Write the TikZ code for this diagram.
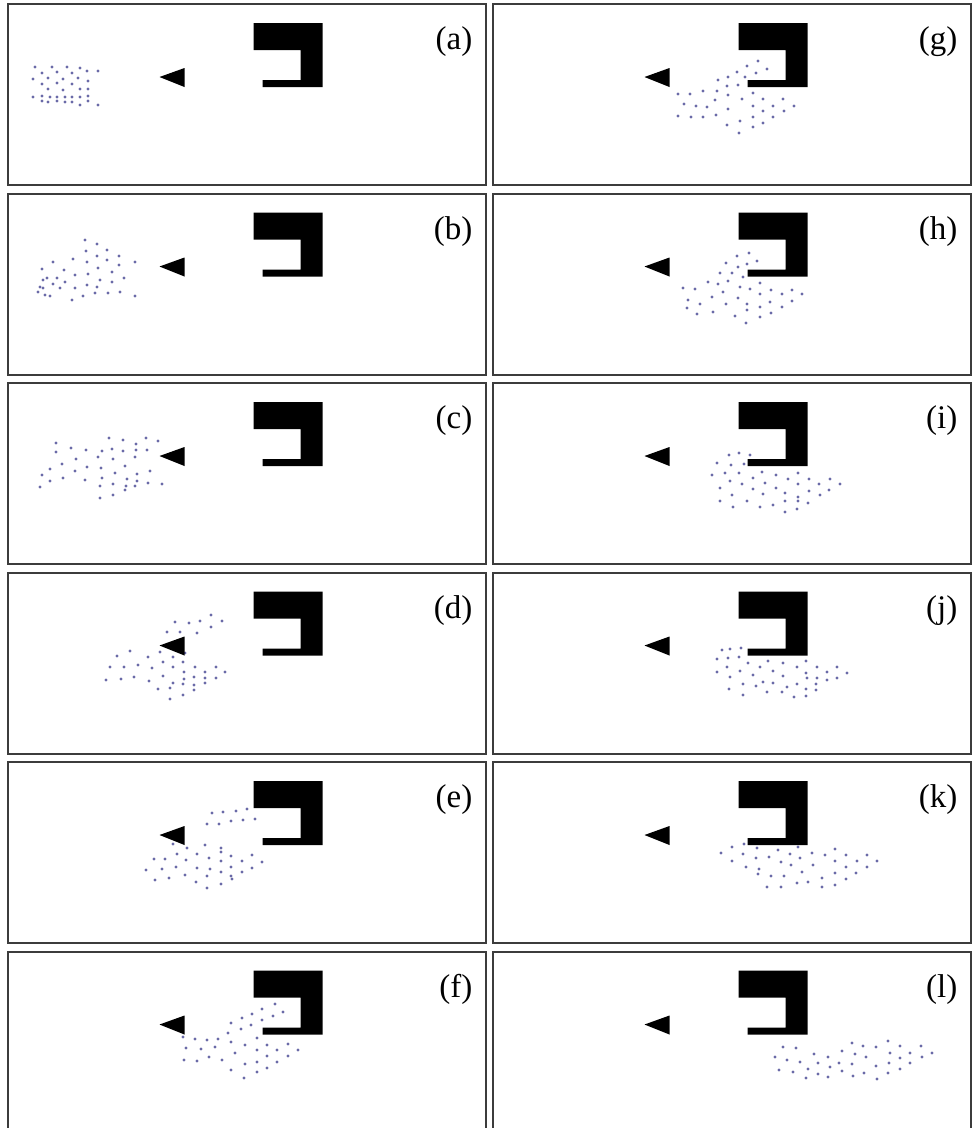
\documentclass[tikz,border=0pt]{standalone}
\usepackage{fontspec}
\setmainfont{Liberation Serif}
\usepackage{tikz}
\definecolor{frame}{HTML}{3C3C3C}
\definecolor{agent}{HTML}{6A6AA8}
\tikzset{
  panel/.style={draw=frame, line width=2pt, fill=white},
  wall/.style={fill=black},
  robot/.style={fill=black},
  agentdot/.style={fill=agent, draw=none},
  tag/.style={anchor=east, inner sep=0pt, font=\fontsize{33}{35}\selectfont},
}

\begin{document}
\begin{tikzpicture}[x=1pt, y=-1pt]
  \useasboundingbox (0,0) rectangle (972,1128);
  \clip (0,0) rectangle (972,1128);
  % frames, obstacle and robot of every snapshot
  \foreach \px/\py/\lab in {7.5/4/a, 7.5/193.5/b, 7.5/383/c, 7.5/572.5/d, 7.5/762/e, 7.5/951.5/f,
                            492.5/4/g, 492.5/193.5/h, 492.5/383/i, 492.5/572.5/j, 492.5/762/k, 492.5/951.5/l}{
    \begin{scope}[shift={(\px,\py)}]
      \draw[panel] (0,0) rectangle (478,181);
      \node[tag] (tag-\lab) at (465,38) {(\lab)};
    \end{scope}
  }
  % agents
  \foreach \x/\y in {35/67,52/67,67/67,80/68,42/73,57/72,72/73,87/71,98/71,33/79,48/78,63/79,78/78,88/81,42/84,57/83,72/84,48/89,63/90,80/89,88/89,33/97,42/96,50/97,57/97,65/97,72/97,80/97,88/96,42/101,48/102,57/101,65/102,72/102,88/101,80/105,98/105}
    \fill[agentdot] (\x,\y) circle (1.6pt);
  \foreach \x/\y in {85/240,97/244,107/250,86/251,97/256,119/256,53/262,73/259,87/262,107/260,119/265,135/262,42/269,64/270,98/268,112/272,75/275,88/274,47/278,57/278,43/280,53/284,65/282,100/280,112/282,124/278,40/287,43/288,60/288,75/288,87/285,97/287,38/292,45/295,50/296,83/296,95/293,108/293,120/292,135/296,72/300}
    \fill[agentdot] (\x,\y) circle (1.6pt);
  \foreach \x/\y in {109/438,123/440,136/444,146/438,158/441,56/443,71/448,86/450,102/451,112/449,123/451,136/450,147/450,56/452,76/459,98/457,113/459,135/457,62/464,87/467,101/468,125/466,50/469,75/471,115/473,137/474,150/471,42/475,63/478,85/480,102/478,127/479,50/481,137/481,148/483,162/484,40/487,100/486,113/484,126/486,135/486,125/490,113/495,100/498}
    \fill[agentdot] (\x,\y) circle (1.6pt);
  \foreach \x/\y in {211/615,175/622,189/623,200/621,222/621,167/632,180/632,197/633,211/627,130/651,117/656,148/657,160/652,173/657,185/653,163/662,183/662,110/667,124/667,138/665,152/668,173/667,195/667,216/667,205/672,225/672,184/672,163/676,106/680,121/679,134/677,149/681,184/679,194/677,205/678,216/678,173/683,183/684,194/685,205/683,158/689,170/688,194/690,183/695,170/699}
    \fill[agentdot] (\x,\y) circle (1.6pt);
  \foreach \x/\y in {212/813,223/812,236/811,247/809,207/824,219/824,231/821,243/820,255/819,173/844,187/848,205/845,221/848,177/854,197/854,209/858,221/852,231/856,252/855,154/859,165/859,186/860,221/861,242/861,262/862,146/870,162/869,176/867,197/868,210/869,231/867,252/868,185/875,207/876,221/872,231/876,242/872,155/880,169/878,196/882,221/884,207/888,232/879}
    \fill[agentdot] (\x,\y) circle (1.6pt);
  \foreach \x/\y in {275/1004,262/1009,283/1012,252/1014,273/1016,242/1018,262/1020,231/1023,241/1029,251/1025,228/1033,183/1037,195/1039,207/1040,218/1039,257/1038,186/1048,201/1049,215/1047,231/1042,245/1045,267/1045,288/1044,235/1053,257/1050,277/1050,298/1050,209/1057,267/1056,288/1056,184/1060,197/1061,222/1060,245/1064,257/1062,277/1062,231/1070,257/1072,267/1068,244/1078}
    \fill[agentdot] (\x,\y) circle (1.6pt);
  \foreach \x/\y in {758/61,747/66,767/69,737/72,756/73,718/80,728/77,745/77,727/86,738/85,678/94,690/94,703/91,717/91,728/95,753/93,715/100,742/99,763/99,783/99,684/104,696/106,707/107,728/109,753/106,773/106,794/106,763/111,784/111,678/116,691/117,703/117,716/115,740/121,753/117,773/117,727/125,753/127,763/123,739/133}
    \fill[agentdot] (\x,\y) circle (1.6pt);
  \foreach \x/\y in {749/253,737/256,757/261,726/263,738/267,747/264,720/273,732/273,743/277,708/282,718/284,728/281,740/287,750/289,760/283,683/288,695/289,723/292,760/294,771/290,782/294,792/290,802/294,688/300,712/297,738/298,770/302,792/301,700/304,726/304,747/304,760/307,782/307,687/308,697/314,713/312,735/316,747/310,760/317,771/313,746/323}
    \fill[agentdot] (\x,\y) circle (1.6pt);
  \foreach \x/\y in {729/455,739/453,750/455,717/463,731/465,744/464,712/475,725/473,739/473,762/472,776/475,798/473,730/481,753/478,765/483,788/479,809/479,819/484,830/479,840/484,720/488,742/484,753/489,776/488,798/484,809/491,829/490,732/495,763/494,785/493,798/497,820/495,720/501,747/501,773/505,785/501,798/501,808/503,733/507,760/507,785/512,797/509}
    \fill[agentdot] (\x,\y) circle (1.6pt);
  \foreach \x/\y in {722/650,730/649,741/648,717/659,728/658,739/657,748/663,768/661,783/663,806/661,727/667,740/671,760/667,773/671,797/667,817/667,827/672,837/667,847/673,717/672,753/675,783/676,806/673,730/677,763/682,807/678,817/678,827/680,837/678,743/684,756/686,773/683,787/687,797/684,816/684,729/689,767/692,782/692,806/689,816/690,743/695,794/697,806/696}
    \fill[agentdot] (\x,\y) circle (1.6pt);
  \foreach \x/\y in {732/847,744/844,757/848,778/850,798/847,721/853,743/854,756/858,769/857,790/854,812/853,825/855,835/849,846/855,867/855,732/861,781/862,800/858,835/861,857/861,877/861,746/867,759/869,791/865,813/865,846/867,867/867,758/874,771/876,784/876,802/872,835/873,856/873,797/883,808/882,822/878,846/879,767/887,781/887,822/887,835/885}
    \fill[agentdot] (\x,\y) circle (1.6pt);
  \foreach \x/\y in {783/1047,796/1048,775/1057,787/1060,800/1062,814/1054,828/1057,842/1051,852/1043,855/1054,863/1046,866/1057,876/1047,888/1041,890/1053,900/1046,900/1058,910/1053,921/1046,922/1057,932/1053,779/1070,793/1072,808/1069,818/1063,830/1067,839/1063,852/1064,876/1066,889/1063,910/1063,806/1078,818/1074,828/1077,842/1071,853/1076,864/1073,877/1079,888/1073,900/1069}
    \fill[agentdot] (\x,\y) circle (1.6pt);
  % obstacle and robot drawn over the agents
  \foreach \px/\py in {7.5/4, 7.5/193.5, 7.5/383, 7.5/572.5, 7.5/762, 7.5/951.5,
                       492.5/4, 492.5/193.5, 492.5/383, 492.5/572.5, 492.5/762, 492.5/951.5}{
    \begin{scope}[shift={(\px,\py)}]
      \fill[wall] (246,19) -- (315,19) -- (315,83) -- (255,83) -- (255,76) -- (293,76) -- (293,46) -- (246,46) -- cycle;
      \fill[robot] (152,73) -- (177,64) -- (177,83) -- cycle;
    \end{scope}
  }
\end{tikzpicture}
\end{document}
